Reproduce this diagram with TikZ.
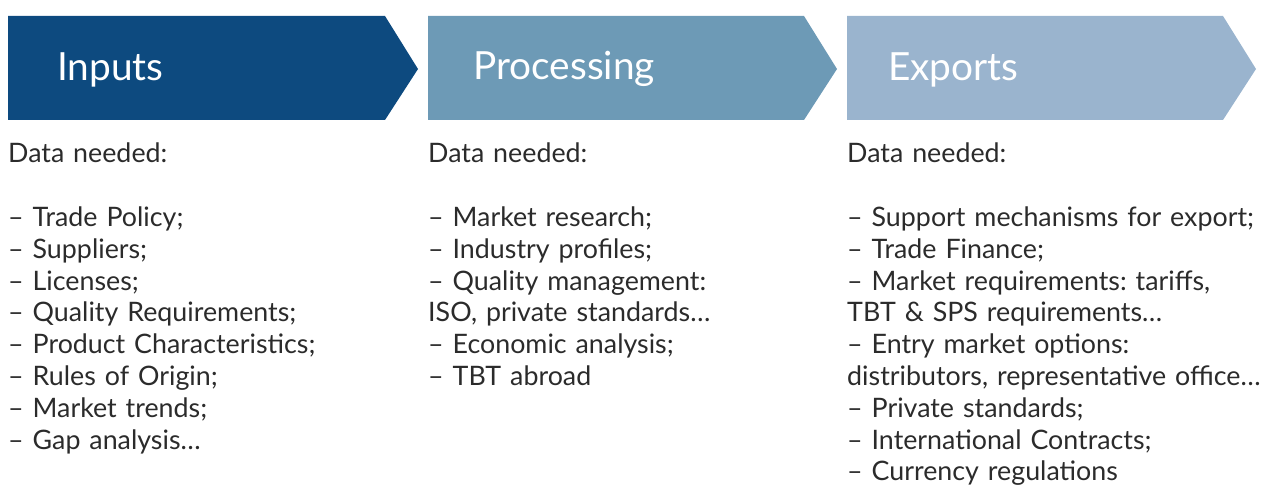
\documentclass[tikz,border=0pt]{standalone}
\usepackage{fontspec}
\setmainfont{Lato}
\usetikzlibrary{positioning}
\definecolor{inputsblue}{HTML}{0D4A7F}
\definecolor{processblue}{HTML}{6D9AB6}
\definecolor{exportsblue}{HTML}{9AB4CE}
\definecolor{bodygray}{HTML}{2B2B2B}
\frenchspacing
\tikzset{
    header/.style={anchor=base west, inner sep=0pt, text=white,
        font=\fontsize{38.8}{40}\selectfont},
    datalist/.style={anchor=base west, inner sep=0pt, text=bodygray,
        text width=500pt, align=left, font=\fontsize{26.8}{31.8}\selectfont}
}

\begin{document}
\begin{tikzpicture}[x=1pt, y=-1pt]
    \useasboundingbox (0,0) rectangle (1261,486);
    % chevrons
    \fill[inputsblue] (8,16) -- (385,16) -- (418,69) -- (385,120) -- (8,120) -- cycle;
    \fill[processblue] (428,16) -- (804,16) -- (837,69) -- (804,120) -- (428,120) -- cycle;
    \fill[exportsblue] (847,16) -- (1223,16) -- (1256,69) -- (1223,120) -- (847,120) -- cycle;
    \node[header] (inputs) at (57,81) {Inputs};
    \node[header] (processing) at (473,80) {Processing};
    \node[header] (exports) at (888,81) {Exports};
    % lists
    \node[datalist] (inputs-data) at (8,163) {Data needed:\\[31.8pt]
        – Trade Policy;\\
        – Suppliers;\\
        – Licenses;\\
        – Quality Requirements;\\
        – Product Characteristics;\\
        – Rules of Origin;\\
        – Market trends;\\
        – Gap analysis…};
    \node[datalist] (processing-data) at (428,163) {Data needed:\\[31.8pt]
        – Market research;\\
        – Industry profiles;\\
        – Quality management:\\
        ISO, private standards…\\
        – Economic analysis;\\
        – TBT abroad};
    \node[datalist] (exports-data) at (847,163) {Data needed:\\[31.8pt]
        – Support mechanisms for export;\\
        – Trade Finance;\\
        – Market requirements: tariffs,\\
        TBT \& SPS requirements…\\
        – Entry market options:\\
        distributors, representative office…\\
        – Private standards;\\
        – International Contracts;\\
        – Currency regulations};
\end{tikzpicture}
\end{document}
